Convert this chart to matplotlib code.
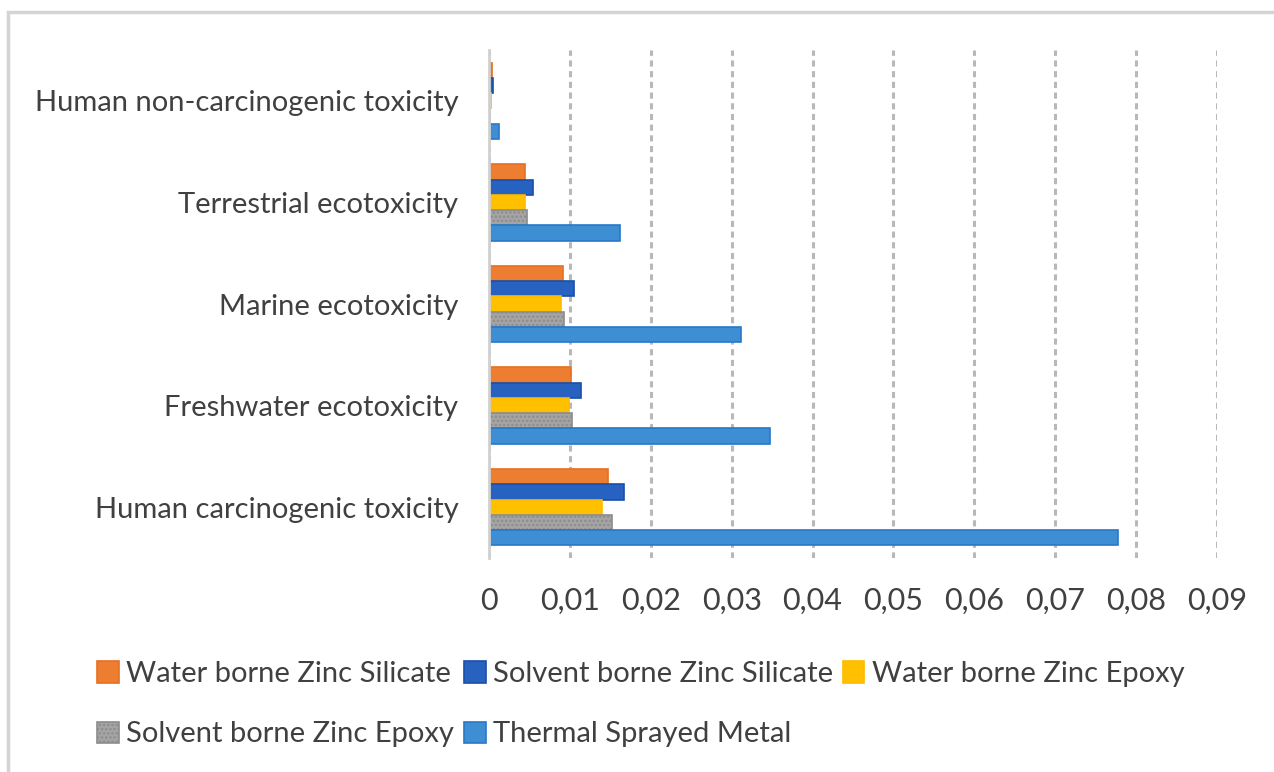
import matplotlib
matplotlib.use("Agg")
import matplotlib.pyplot as plt
import numpy as np
from matplotlib.patches import Rectangle
from matplotlib.ticker import FuncFormatter

plt.rcParams['font.family'] = ['Lato', 'DejaVu Sans']
plt.rcParams['hatch.linewidth'] = 1.2

categories = ["Human carcinogenic toxicity", "Freshwater ecotoxicity",
              "Marine ecotoxicity", "Terrestrial ecotoxicity",
              "Human non-carcinogenic toxicity"]

series_names = ["Water borne Zinc Silicate", "Solvent borne Zinc Silicate",
                "Water borne Zinc Epoxy", "Solvent borne Zinc Epoxy",
                "Thermal Sprayed Metal"]

water_zinc_silicate = [0.0147, 0.0101, 0.0091, 0.0044, 0.0004]
solvent_zinc_silicate = [0.0167, 0.0114, 0.0105, 0.0055, 0.0005]
water_zinc_epoxy = [0.0140, 0.0099, 0.0089, 0.0044, 0.0002]
solvent_zinc_epoxy = [0.0152, 0.0102, 0.0093, 0.0047, 0.0001]
thermal_sprayed_metal = [0.0777, 0.0347, 0.0311, 0.0162, 0.0012]

xticks = [0, 0.01, 0.02, 0.03, 0.04, 0.05, 0.06, 0.07, 0.08, 0.09]

values = [water_zinc_silicate, solvent_zinc_silicate, water_zinc_epoxy,
          solvent_zinc_epoxy, thermal_sprayed_metal]
faces = ["#ED7D31", "#2862C0", "#FFC000", "#A5A5A5", "#3E8ED4"]
edges = ["#E8701E", "#1A4FA8", "#FFBB00", "#8C8C8C", "#2878C8"]
hatches = [None, None, None, "....", None]

fig = plt.figure(figsize=(12.74, 7.72), dpi=100)
W, H = 1274, 772
ax = fig.add_axes([489 / W, 1 - 558 / H, 728 / W, 508 / H])

n = len(categories)
y = np.arange(n)
bh = 0.15
for i, (vals, fc, ec, ht) in enumerate(zip(values, faces, edges, hatches)):
    offset = (2 - i) * bh
    ax.barh(y + offset, vals, height=bh, color=fc, edgecolor=ec,
            linewidth=1.2, hatch=ht, label=series_names[i], zorder=3)

ax.set_ylim(-0.5, n - 0.5)
ax.set_xlim(0, 0.09)
ax.set_xticks(xticks)
ax.xaxis.set_major_formatter(FuncFormatter(
    lambda v, p: "0" if abs(v) < 1e-12 else f"{v:.2f}".replace(".", ",")))
ax.set_yticks(y)
ax.set_yticklabels(categories)
ax.tick_params(axis='y', length=0, labelsize=21, pad=22)
ax.tick_params(axis='x', length=0, labelsize=22, pad=21)
for lbl in ax.get_xticklabels() + ax.get_yticklabels():
    lbl.set_color("#404040")

ax.grid(axis='x', color="#B8B8B8", linestyle=(0, (2, 1.5)), linewidth=2.2, zorder=0)
for s in ["top", "right", "bottom"]:
    ax.spines[s].set_visible(False)
ax.spines["left"].set_color("#D0D0D0")
ax.spines["left"].set_linewidth(2)
ax.spines["left"].set_zorder(4)

# legend laid out row by row: 3 columns, column-major order in matplotlib
handles, labels = ax.get_legend_handles_labels()
order = [0, 3, 1, 4, 2]
leg = fig.legend([handles[k] for k in order], [labels[k] for k in order],
                 ncol=3, loc="upper left", bbox_to_anchor=(97 / W, 1 - 661 / H),
                 frameon=False, fontsize=21, handlelength=0.75, handleheight=0.75,
                 handletextpad=0.25, columnspacing=0.33, labelspacing=1.18,
                 borderaxespad=0, borderpad=0)
for t in leg.get_texts():
    t.set_color("#404040")

# outer frame
fig.add_artist(Rectangle((8 / W, -0.05), 1.2, (1 - 12 / H) + 0.05,
                         transform=fig.transFigure, fill=False,
                         edgecolor="#D4D4D4", linewidth=2.5))

fig.savefig("out.png", dpi=100, facecolor="white")
